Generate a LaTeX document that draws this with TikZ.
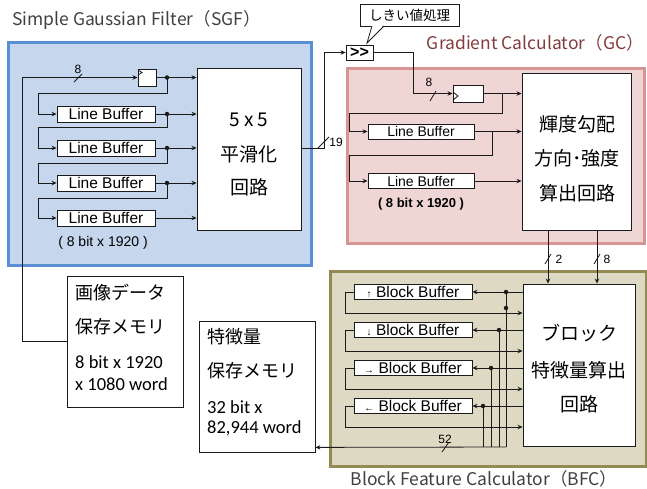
\documentclass[tikz,border=0pt]{standalone}
\usepackage{fontspec}
\setmainfont{Liberation Sans}
\newfontfamily\jp{Noto Sans CJK JP}
\newfontfamily\calib{Carlito}
\usetikzlibrary{arrows.meta,calc}
\definecolor{sgffill}{HTML}{C6D6EC}
\definecolor{sgfline}{HTML}{5B8FD3}
\definecolor{gcfill}{HTML}{F0D5D5}
\definecolor{gcline}{HTML}{D99594}
\definecolor{bfcfill}{HTML}{DDD9C3}
\definecolor{bfcline}{HTML}{948A54}
\definecolor{gctitle}{HTML}{833C3C}
\definecolor{ttl}{HTML}{404040}
\definecolor{ink}{HTML}{1A1A1A}
\begin{document}
\begin{tikzpicture}[x=1pt,y=-1pt,
  ln/.style={line width=0.8pt, draw=ink},
  arr/.style={ln, -{Stealth[length=5pt,width=4.5pt]}},
  wbox/.style={draw=ink, line width=0.9pt, fill=white, inner sep=0pt},
  panel/.style={line width=2.5pt, inner sep=0pt, anchor=north west},
  lbuf/.style={wbox, minimum width=98pt, minimum height=16pt, font=\fontsize{15.5}{15.5}\selectfont},
  gbuf/.style={wbox, minimum width=106pt, minimum height=15pt, font=\fontsize{14}{14}\selectfont},
  bbuf/.style={wbox, minimum width=118pt, minimum height=15pt, font=\fontsize{15.5}{15.5}\selectfont},
  jdot/.style={circle, fill=ink, inner sep=0pt, minimum size=4.5pt},
  bigjp/.style={font=\jp\fontsize{19}{19}\selectfont},
  memjp/.style={font=\jp\fontsize{18}{18}\selectfont, anchor=west, inner sep=0pt},
  memlat/.style={font=\calib\fontsize{18.5}{18.5}\selectfont, anchor=west, inner sep=0pt},
  title/.style={font=\jp\fontsize{17.5}{17.5}\selectfont, inner sep=0pt},
  small/.style={font=\fontsize{12}{12}\selectfont, inner sep=0pt}
]
\useasboundingbox (0,0) rectangle (647,488);

% ---------- panels ----------
\node[panel, draw=sgfline, fill=sgffill, minimum width=303pt, minimum height=223pt] (sgf) at (7,41) {};
\node[panel, draw=gcline, fill=gcfill, minimum width=297pt, minimum height=175pt] (gc) at (346,67) {};
\node[panel, draw=bfcline, fill=bfcfill, minimum width=316pt, minimum height=195pt] (bfc) at (329,270) {};

\node[title, text=ttl, anchor=west] (sgft) at (12,20) {Simple Gaussian Filter（SGF）};
\node[title, text=gctitle, anchor=east] (gct) at (644,43) {Gradient Calculator（GC）};
\node[title, text=ttl] (bfct) at (484,479) {Block Feature Calculator（BFC）};

% ---------- memories ----------
\node[wbox, line width=0.8pt, minimum width=116pt, minimum height=131pt] (mem1) at (125,341.5) {};
\node[memjp] (m1a) at (75,293) {画像データ};
\node[memjp] (m1b) at (75,327) {保存メモリ};
\node[memlat] (m1c) at (75,362) {8 bit x 1920};
\node[memlat] (m1d) at (75,384) {x 1080 word};

\node[wbox, line width=0.8pt, minimum width=116pt, minimum height=131pt] (mem2) at (257,386.5) {};
\node[memjp] (m2a) at (207,337) {特徴量};
\node[memjp] (m2b) at (207,371) {保存メモリ};
\node[memlat] (m2c) at (207,407) {32 bit x};
\node[memlat] (m2d) at (207,428) {82,944 word};

% ---------- SGF ----------
\node[wbox, minimum width=18pt, minimum height=17pt] (reg1) at (147,77.5) {};
\draw[ln] (138,70) -- (142,72.5) -- (138,75);
\node[lbuf] (lb1) at (106,114) {Line Buffer};
\node[lbuf] (lb2) at (106,148) {Line Buffer};
\node[lbuf] (lb3) at (106,183) {Line Buffer};
\node[lbuf] (lb4) at (106,218) {Line Buffer};
\node[wbox, minimum width=104pt, minimum height=162pt] (smooth) at (249,149) {};
\node[bigjp] (s1) at (249,120) {5 x 5};
\node[bigjp] (s2) at (249,154) {平滑化};
\node[bigjp] (s3) at (249,187) {回路};
\node[font=\fontsize{14}{14}\selectfont] (sgfnote) at (103,243) {( 8 bit x 1920 )};

\draw[arr] (mem1.west) -- (22,341.5) |- (reg1.west);
\draw[ln] (74,82) -- (82,74);
\node[small] (l8a) at (78,69) {8};

\coordinate (d0) at (167,77.5);
\coordinate (d1) at (167,114);
\coordinate (d2) at (167,148);
\coordinate (d3) at (167,183);
\draw[arr] (reg1.east) -- (reg1.east -| smooth.west);
\draw[arr] (lb1.east) -- (lb1.east -| smooth.west);
\draw[arr] (lb2.east) -- (lb2.east -| smooth.west);
\draw[arr] (lb3.east) -- (lb3.east -| smooth.west);
\draw[arr] (lb4.east) -- (lb4.east -| smooth.west);
\draw[arr] (d0) -- (167,93) -- (38,93) |- (lb1.west);
\draw[arr] (d1) -- (167,127) -- (38,127) |- (lb2.west);
\draw[arr] (d2) -- (167,163) -- (38,163) |- (lb3.west);
\draw[arr] (d3) -- (167,198) -- (38,198) |- (lb4.west);
\foreach \d in {d0,d1,d2,d3} \node[jdot] at (\d) {};

% ---------- threshold ----------
\node[wbox, minimum width=27pt, minimum height=15pt, font=\fontsize{16}{16}\selectfont\bfseries] (shr) at (359.5,52.5) {{>}{>}};
\node[wbox, line width=0.8pt, minimum width=99pt, minimum height=22pt, font=\jp\fontsize{13.5}{13.5}\selectfont] (thr) at (409.5,15) {しきい値処理};
\fill[white] (372,24.8) -- (384,24.8) -- (367,43) -- cycle;
\draw[ln] (372,26) -- (367,43) -- (384,26);

\draw[arr] (smooth.east |- 0,148) -- (324,148) |- (shr.west);
\draw[ln] (318,148) -- (329,137);
\node[small] (l19) at (336,142) {19};

% ---------- GC ----------
\node[wbox, minimum width=30pt, minimum height=17pt] (reg2) at (468,93.5) {};
\draw[ln] (453,92) -- (458,96) -- (453,100);
\node[gbuf] (g1) at (421,131.5) {Line Buffer};
\node[gbuf] (g2) at (421,181) {Line Buffer};
\node[wbox, minimum width=109pt, minimum height=157pt] (gcm) at (576.5,151.5) {};
\node[bigjp] (g1t) at (577,124) {輝度勾配};
\node[bigjp] (g2t) at (577,158) {方向･強度};
\node[bigjp] (g3t) at (577,193) {算出回路};
\node[font=\fontsize{13}{13}\selectfont\bfseries] (gcnote) at (421,204) {( 8 bit x 1920 )};

\draw[arr] (shr.east) -- (413,52.5) |- (reg2.west);
\draw[ln] (430,101) -- (436,91);
\node[small] (l8b) at (429,82) {8};
\draw[arr] (reg2.east) -- (reg2.east -| gcm.west);
\draw[arr] (g1.east) -- (g1.east -| gcm.west);
\draw[arr] (g2.east) -- (g2.east -| gcm.west);
\draw[arr] (502,93.5) -- (502,113) -- (349,113) |- (g1.west);
\draw[arr] (492,131.5) -- (492,155) -- (349,155) |- (g2.west);

% ---------- BFC ----------
\node[wbox, minimum width=112pt, minimum height=162pt] (bm) at (579,365) {};
\node[bigjp] (b1t) at (579,333) {ブロック};
\node[bigjp] (b2t) at (579,370) {特徴量算出};
\node[bigjp] (b3t) at (579,404) {回路};

\draw[arr] (gcm.south -| 548,0) -- (bm.north -| 548,0);
\draw[arr] (gcm.south -| 597,0) -- (bm.north -| 597,0);
\draw[ln] (545,264) -- (551,254);
\draw[ln] (594,264) -- (600,254);
\node[small] (l2) at (559,259) {2};
\node[small] (l8c) at (607,259) {8};

\node[bbuf] (bb1) at (413,292) {{\fontsize{10}{10}\selectfont ↑} Block Buffer};
\node[bbuf] (bb2) at (413,330) {{\fontsize{10}{10}\selectfont ↓} Block Buffer};
\node[bbuf] (bb3) at (413,368) {{\fontsize{10}{10}\selectfont →} Block Buffer};
\node[bbuf] (bb4) at (413,406) {{\fontsize{10}{10}\selectfont ←} Block Buffer};

\foreach \b/\x in {bb1/506,bb2/499,bb3/491,bb4/483}{
  \draw[arr] (\b.east -| bm.west) -- (\b.east);
  \draw[arr] (\b.west) -- ++(-8,0) -- ++(0,21) -- ($(\b.east -| bm.west)+(0,21)$);
  \draw[ln] (\b.east -| \x,0) -- (\x,447);
  \node[jdot] at (\b.east -| \x,0) {};
}
\node[jdot] (xd) at (506,308) {};
\draw[arr] (506,447) -- ($(mem2.south east)+(0,-5)$);
\draw[ln] (442,452) -- (449,442);
\node[small] (l52) at (445,439) {52};
\end{tikzpicture}
\end{document}
